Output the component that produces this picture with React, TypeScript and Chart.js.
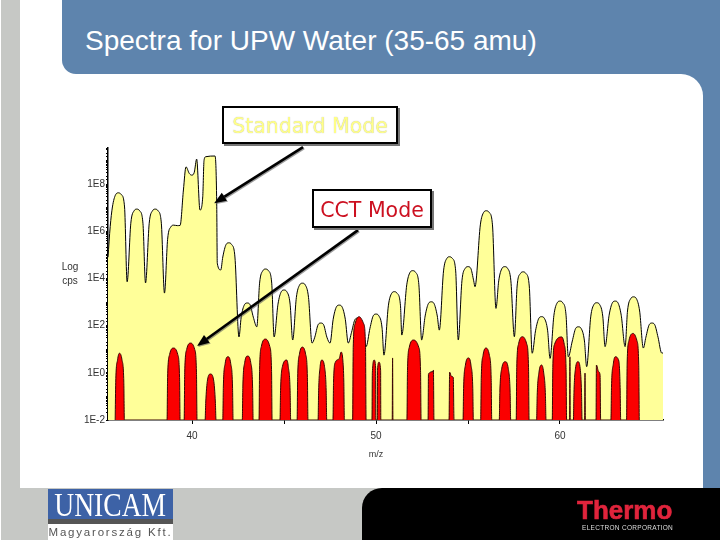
import { useEffect, useRef } from "react";
import { Chart, registerables } from "chart.js";

Chart.register(...registerables);

const titleText = "Spectra for UPW Water (35-65 amu)";
const yTitleLines = ["Log", "cps"];
const xTitleText = "m/z";
const xTitleAt = 50;

const xTicks = [40, 45, 50, 55, 60];
const xLabels = [40, 50, 60];
const yLabelExponents = [-2, 0, 2, 4, 6, 8];

// [m/z, log10(cps)]
const standardMode: [number, number][] = [
  [35.43, 4.9], [35.55, 6.2], [35.67, 7.03], [35.85, 7.56], [36, 7.63], [36.15, 7.56], [36.33, 7.03], [36.47, 3.86],
  [36.67, 6.34], [36.85, 6.87], [37, 6.94], [37.15, 6.87], [37.33, 6.34], [37.47, 3.81],
  [37.67, 6.34], [37.85, 6.87], [38, 6.94], [38.15, 6.87], [38.33, 6.34], [38.5, 3.38],
  [38.67, 5.66], [38.85, 6.19], [39, 6.26], [39.2, 6.24], [39.35, 6.25],
  [39.53, 7.75], [39.67, 8.73], [39.85, 8.45], [39.98, 8.38], [40.12, 8.5], [40.25, 9.06], [40.43, 6.9],
  [40.58, 7.46], [40.65, 9.0], [40.74, 9.16], [41.25, 9.19], [41.34, 7.18], [41.37, 4.65], [41.56, 4.36],
  [41.67, 4.91], [41.85, 5.44], [42, 5.51], [42.15, 5.44], [42.33, 4.91], [42.55, 1.52],
  [42.67, 2.36], [42.85, 2.89], [43, 2.96], [43.15, 2.89], [43.33, 2.36], [43.52, 1.95],
  [43.67, 3.8], [43.85, 4.33], [44, 4.4], [44.15, 4.33], [44.33, 3.8], [44.46, 1.52],
  [44.67, 2.91], [44.85, 3.44], [45, 3.51], [45.15, 3.44], [45.33, 2.91], [45.47, 1.39],
  [45.67, 3.2], [45.85, 3.73], [46, 3.8], [46.15, 3.73], [46.33, 3.2], [46.52, 1.26],
  [46.67, 1.51], [46.85, 2.04], [47, 2.11], [47.15, 2.04], [47.33, 1.51], [47.5, 1.26],
  [47.67, 2.27], [47.85, 2.8], [48, 2.87], [48.15, 2.8], [48.33, 2.27], [48.49, 1.26],
  [48.67, 1.72], [48.85, 2.25], [49, 2.32], [49.15, 2.25], [49.33, 1.72], [49.46, 1.11],
  [49.67, 1.89], [49.85, 2.42], [50, 2.49], [50.15, 2.42], [50.33, 1.89], [50.43, 0.75],
  [50.67, 2.84], [50.85, 3.37], [51, 3.44], [51.15, 3.37], [51.33, 2.84], [51.4, 1.6],
  [51.67, 3.73], [51.85, 4.26], [52, 4.33], [52.15, 4.26], [52.33, 3.73], [52.48, 1.39],
  [52.67, 2.41], [52.85, 2.94], [53, 3.01], [53.15, 2.94], [53.33, 2.41], [53.44, 1.81],
  [53.67, 4.32], [53.85, 4.85], [54, 4.92], [54.15, 4.85], [54.33, 4.32], [54.47, 1.39],
  [54.67, 3.9], [54.85, 4.43], [55, 4.5], [55.15, 4.43], [55.31, 3.9], [55.38, 3.65],
  [55.67, 6.27], [55.85, 6.8], [56, 6.87], [56.15, 6.8], [56.33, 6.27], [56.52, 2.73],
  [56.67, 3.9], [56.85, 4.43], [57, 4.5], [57.15, 4.43], [57.33, 3.9], [57.52, 1.53],
  [57.67, 3.68], [57.85, 4.21], [58, 4.28], [58.15, 4.21], [58.33, 3.68], [58.49, 0.83],
  [58.67, 1.78], [58.85, 2.31], [59, 2.38], [59.15, 2.31], [59.33, 1.78], [59.46, 0.61],
  [59.67, 2.44], [59.85, 2.97], [60, 3.04], [60.15, 2.97], [60.33, 2.44], [60.45, 0.68],
  [60.67, 1.35], [60.85, 1.88], [61, 1.95], [61.15, 1.88], [61.33, 1.35], [61.45, 0.26],
  [61.67, 2.37], [61.85, 2.9], [62, 2.97], [62.15, 2.9], [62.33, 2.37], [62.45, 1.11],
  [62.67, 2.44], [62.85, 2.97], [63, 3.04], [63.15, 2.97], [63.33, 2.44], [63.54, 1.11],
  [63.67, 2.62], [63.85, 3.15], [64, 3.22], [64.15, 3.15], [64.33, 2.62], [64.53, 1.05],
  [64.67, 1.51], [64.85, 2.04], [65, 2.11], [65.15, 2.04], [65.33, 1.51], [65.53, 0.84], [65.6, 0.84]
];

const cctMode: [number, number][] = [
  [35.82, -2], [35.85, -0.4], [35.95, 0.55], [36.05, 0.83], [36.19, 0.55], [36.29, -0.4], [36.32, -2],
  [38.64, -2], [38.67, -0.2], [38.78, 0.78], [39, 1.05], [39.22, 0.78], [39.32, -0.2], [39.35, -2],
  [39.57, -2], [39.6, 0], [39.71, 1.0], [39.93, 1.26], [40.14, 1.0], [40.24, 0], [40.27, -2],
  [40.71, -2], [40.74, -1.3], [40.84, -0.3], [41, -0.05], [41.17, -0.3], [41.27, -1.3], [41.3, -2],
  [41.67, -2], [41.7, -0.6], [41.8, 0.4], [41.95, 0.68], [42.1, 0.4], [42.2, -0.6], [42.23, -2],
  [42.73, -2], [42.76, -0.6], [42.86, 0.43], [43.02, 0.71], [43.19, 0.43], [43.29, -0.6], [43.32, -2],
  [43.64, -2], [43.67, 0.13], [43.77, 1.13], [44, 1.43], [44.22, 1.13], [44.32, 0.13], [44.35, -2],
  [44.78, -2], [44.81, -0.76], [44.91, 0.26], [45.15, 0.54], [45.23, 0.26], [45.33, -0.76], [45.36, -2],
  [45.71, -2], [45.74, -0.2], [45.84, 0.8], [46, 1.09], [46.17, 0.8], [46.27, -0.2], [46.3, -2],
  [46.85, -2], [46.88, -0.76], [46.96, 0.26], [47.05, 0.54], [47.2, 0.26], [47.29, -0.76], [47.32, -2],
  [47.66, -2], [47.69, -0.4], [47.79, 0.45], [48, 0.6], [48.1, 0.88], [48.2, 0.5], [48.25, -0.4], [48.28, -2],
  [48.73, -2], [48.76, 1.08], [48.86, 2.08], [49.08, 2.38], [49.33, 2.08], [49.43, 1.08], [49.46, -2],
  [49.78, -2], [49.8, 0], [49.9, 0.54], [49.98, 0.2], [49.99, -2],
  [50.07, -2], [50.08, 0.1], [50.16, 0.45], [50.25, 0.1], [50.26, -2],
  [50.88, -2], [50.9, 0.63], [50.92, -2],
  [51.68, -2], [51.71, 0.09], [51.81, 1.09], [52.05, 1.39], [52.32, 1.09], [52.42, 0.09], [52.45, -2],
  [52.83, -2], [52.85, -0.05], [53.1, 0.05], [53.12, 0.12], [53.15, -2],
  [53.97, -2], [54, 0.03], [54.1, -0.15], [54.2, -0.2], [54.24, -2],
  [54.73, -2], [54.76, -0.67], [54.86, 0.33], [55.03, 0.63], [55.16, 0.33], [55.26, -0.67], [55.29, -2],
  [55.69, -2], [55.72, -0.25], [55.82, 0.75], [55.98, 1.05], [56.16, 0.75], [56.26, -0.25], [56.29, -2],
  [56.7, -2], [56.73, -0.83], [56.83, 0.17], [57.03, 0.47], [57.19, 0.17], [57.29, -0.83], [57.32, -2],
  [57.62, -2], [57.65, 0.23], [57.75, 1.23], [57.97, 1.53], [58.19, 1.23], [58.29, 0.23], [58.32, -2],
  [58.73, -2], [58.76, -0.97], [58.86, 0.03], [59, 0.33], [59.11, 0.03], [59.21, -0.97], [59.24, -2],
  [59.58, -2], [59.61, 0.22], [59.71, 1.22], [60.1, 1.52], [60.23, 1.22], [60.33, 0.22], [60.36, -2],
  [60.52, -2], [60.54, 0.68], [60.56, -2],
  [60.73, -2], [60.76, -0.83], [60.84, 0.17], [60.98, 0.47], [61.1, 0.17], [61.17, -0.83], [61.2, -2],
  [61.34, -2], [61.36, -0.01], [61.38, -2],
  [61.96, -2], [61.98, 0.33], [62.1, 0.05], [62.18, -0.1], [62.21, -2],
  [62.77, -2], [62.8, -0.62], [62.9, 0.38], [63, 0.68], [63.2, 0.5], [63.27, -0.62], [63.3, -2],
  [63.62, -2], [63.65, 0.37], [63.75, 1.37], [63.98, 1.67], [64.18, 1.37], [64.28, 0.37], [64.31, -2]
];

// callout arrows, tail then tip, [m/z, log10(cps)]
const standardArrow: [number, number][] = [[46.03, 9.57], [41.2, 7.19]];
const cctArrow: [number, number][] = [[49.02, 6.05], [40.27, 1.14]];

const toPoints = (rows: [number, number][]) => rows.map(([x, e]) => ({ x, y: 10 ** e }));

const labelFont = "'Liberation Sans', sans-serif";

const overlayPlugin = {
  id: "overlay",
  afterDatasetsDraw(chart: any) {
    const { ctx, scales } = chart;
    for (const [tail, tip] of [standardArrow, cctArrow]) {
      const x0 = scales.x.getPixelForValue(tail[0]);
      const y0 = scales.y.getPixelForValue(10 ** tail[1]);
      const x1 = scales.x.getPixelForValue(tip[0]);
      const y1 = scales.y.getPixelForValue(10 ** tip[1]);
      const a = Math.atan2(y1 - y0, x1 - x0);
      ctx.save();
      ctx.strokeStyle = "#000";
      ctx.fillStyle = "#000";
      ctx.lineWidth = 2.6;
      ctx.shadowColor = "rgba(90,90,90,0.6)";
      ctx.shadowOffsetX = 1;
      ctx.shadowOffsetY = 1;
      ctx.beginPath();
      ctx.moveTo(x0, y0);
      ctx.lineTo(x1 - 8 * Math.cos(a), y1 - 8 * Math.sin(a));
      ctx.stroke();
      ctx.beginPath();
      ctx.moveTo(x1, y1);
      ctx.lineTo(x1 - 13 * Math.cos(a - 0.38), y1 - 13 * Math.sin(a - 0.38));
      ctx.lineTo(x1 - 13 * Math.cos(a + 0.38), y1 - 13 * Math.sin(a + 0.38));
      ctx.closePath();
      ctx.fill();
      ctx.restore();
    }
    // the m/z title sits under the 50 tick, not under the middle of the axis
    ctx.save();
    ctx.fillStyle = "#333";
    ctx.font = `9px ${labelFont}`;
    ctx.textAlign = "center";
    ctx.textBaseline = "middle";
    ctx.fillText(xTitleText, scales.x.getPixelForValue(xTitleAt), scales.x.top + 35);
    ctx.restore();
  }
};

function SpectraChart() {
  const canvasRef = useRef<HTMLCanvasElement | null>(null);

  useEffect(() => {
    if (!canvasRef.current) return;

    const chart = new Chart(canvasRef.current, {
      type: "line",
      data: {
        datasets: [
          {
            label: "Standard Mode",
            data: toPoints(standardMode),
            borderColor: "#000",
            backgroundColor: "#ffff99",
            borderWidth: 1,
            pointRadius: 0,
            cubicInterpolationMode: "monotone",
            fill: "start",
            order: 2
          },
          {
            label: "CCT Mode",
            data: toPoints(cctMode),
            borderColor: "#3a0505",
            backgroundColor: "#fb0000",
            borderWidth: 1,
            pointRadius: 0,
            cubicInterpolationMode: "monotone",
            fill: "start",
            order: 1
          }
        ]
      },
      options: {
        responsive: false,
        animation: false,
        devicePixelRatio: 1,
        layout: { padding: { left: 78, right: 57, top: 148, bottom: 76 } },
        plugins: {
          legend: { display: false },
          tooltip: { enabled: false }
        },
        scales: {
          x: {
            type: "linear",
            min: 35.43,
            max: 65.6,
            afterFit: (s: any) => {
              s.height = 44;
            },
            afterBuildTicks: (s: any) => {
              s.ticks = xTicks.map((value) => ({ value }));
            },
            grid: { display: true, drawOnChartArea: false, drawTicks: true, tickLength: 4, tickColor: "#000" },
            border: { display: true, color: "#000", width: 1.5 },
            ticks: {
              autoSkip: false,
              maxRotation: 0,
              padding: 6,
              color: "#333",
              font: { family: labelFont, size: 10 },
              callback: (v: any) => (xLabels.includes(Number(v)) ? String(v) : "")
            }
          },
          y: {
            type: "logarithmic",
            min: 1e-2,
            max: 10 ** 9.53,
            afterFit: (s: any) => {
              s.width = 30;
            },
            grid: { display: true, drawOnChartArea: false, drawTicks: true, tickLength: 2, tickColor: "#000" },
            border: { display: true, color: "#000", width: 1.5 },
            ticks: {
              autoSkip: false,
              padding: 1,
              color: "#333",
              font: { family: labelFont, size: 10 },
              callback: (v: any) => {
                const e = Math.log10(Number(v));
                const r = Math.round(e);
                if (Math.abs(e - r) > 1e-6 || !yLabelExponents.includes(r)) return "";
                return `1E${r}`;
              }
            }
          }
        }
      },
      plugins: [overlayPlugin]
    } as any);

    return () => chart.destroy();
  }, []);

  return (
    <canvas
      ref={canvasRef}
      width={720}
      height={540}
      style={{ position: "absolute", left: 0, top: 0, width: 720, height: 540 }}
    />
  );
}

function Callout({ text, color, left, top, width, height, halo }: any) {
  return (
    <div
      style={{
        position: "absolute",
        left,
        top,
        width,
        height,
        boxSizing: "border-box",
        border: "2px solid #000",
        boxShadow: "2px 2px 0 #777",
        background: "#fff",
        color,
        font: "20.5px 'DejaVu Sans', sans-serif",
        lineHeight: `${height - 1}px`,
        textAlign: "center",
        whiteSpace: "nowrap",
        textShadow: halo ? "0 0 1px #aaa" : "none"
      }}
    >
      {text}
    </div>
  );
}

export default function App() {
  const box = (style: any) => <div style={{ position: "absolute", ...style }} />;
  return (
    <div style={{ position: "fixed", left: 0, top: 0, width: 720, height: 540, overflow: "hidden", background: "#fff" }}>
      {box({ left: 1, top: 0, width: 719, height: 540, background: "#c6c8c5" })}
      {box({ left: 640, top: 50, width: 80, height: 438, background: "#5e84ad" })}
      {box({ left: 20, top: 0, width: 100, height: 488, background: "#fff" })}
      {box({ left: 20, top: 74, width: 683, height: 414, background: "#fff", borderTopRightRadius: 22, borderBottomLeftRadius: 24 })}
      {box({ left: 62, top: 0, width: 658, height: 74, background: "#5e84ad", borderBottomLeftRadius: 14 })}
      {box({ left: 362, top: 488, width: 358, height: 52, background: "#000", borderTopLeftRadius: 20 })}

      <div
        style={{
          position: "absolute",
          left: 85,
          top: 25,
          color: "#fff",
          font: "28px 'Liberation Sans', sans-serif",
          whiteSpace: "nowrap"
        }}
      >
        {titleText}
      </div>

      <SpectraChart />

      <div
        style={{
          position: "absolute",
          left: 60,
          top: 260,
          width: 20,
          textAlign: "center",
          color: "#333",
          font: `10px/14px ${labelFont}`
        }}
      >
        {yTitleLines.map((t) => (
          <div key={t}>{t}</div>
        ))}
      </div>

      <Callout text="Standard Mode" color="#ffff88" left={222} top={106} width={176} height={38} halo />
      <Callout text="CCT Mode" color="#cc1020" left={312} top={189} width={120} height={39} />

      {/* footer logos */}
      {box({ left: 48, top: 489, width: 125, height: 30, background: "#3d62a6" })}
      {box({ left: 48, top: 519, width: 125, height: 5, background: "#555" })}
      {box({ left: 48, top: 524, width: 125, height: 16, background: "#fff" })}
      <div
        style={{
          position: "absolute",
          left: 44,
          top: 489,
          width: 125,
          height: 30,
          color: "#fff",
          textAlign: "center",
          font: "33px/32px 'Liberation Serif', serif",
          whiteSpace: "nowrap",
          transform: "scaleX(0.835)"
        }}
      >
        UNICAM
      </div>
      <div
        style={{
          position: "absolute",
          left: 48,
          top: 525,
          width: 125,
          color: "#555",
          textAlign: "center",
          font: "11.5px/15px 'Liberation Sans', sans-serif",
          letterSpacing: 1.8,
          whiteSpace: "nowrap"
        }}
      >
        Magyarország Kft.
      </div>
      <div
        style={{
          position: "absolute",
          left: 577,
          top: 496,
          color: "#e0243c",
          font: "bold 26px/28px 'Liberation Sans', sans-serif",
          WebkitTextStroke: "0.6px #e0243c",
          whiteSpace: "nowrap"
        }}
      >
        Thermo
      </div>
      <div
        style={{
          position: "absolute",
          left: 582,
          top: 523,
          color: "#ddd",
          font: "6.5px/9px 'Liberation Sans', sans-serif",
          letterSpacing: 0.3,
          whiteSpace: "nowrap"
        }}
      >
        ELECTRON CORPORATION
      </div>
    </div>
  );
}
